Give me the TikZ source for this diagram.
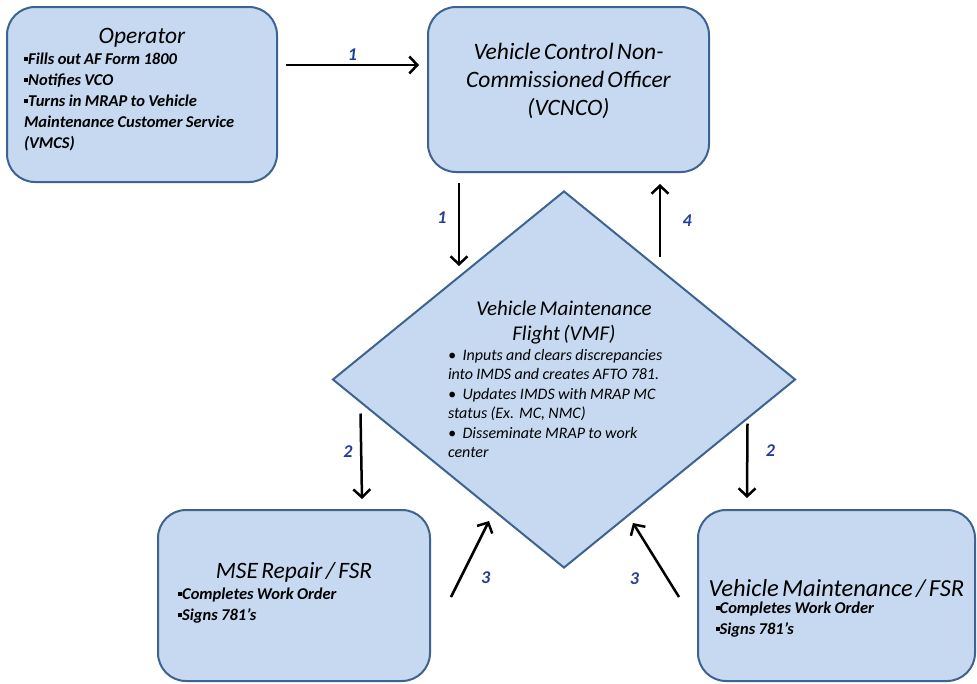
\documentclass[tikz,border=0pt]{standalone}
\usepackage{fontspec}
\setmainfont{Carlito}
\usepackage{xcolor}
\usetikzlibrary{positioning,shapes.geometric,arrows.meta}

\definecolor{boxfill}{HTML}{C6D9F0}
\definecolor{boxline}{HTML}{3E6391}
\definecolor{lblblue}{HTML}{233E99}

\newcommand{\sqbul}{\rule[0.2em]{4.2pt}{4.2pt}}
\newcommand{\ttlfont}{\fontsize{23.5}{28}\selectfont}
\newcommand{\bltfont}{\fontsize{16.5}{21}\selectfont\bfseries}

\begin{document}
\begin{tikzpicture}[x=1pt, y=-1pt,
    box/.style={draw=boxline, fill=boxfill, line width=2pt, rounded corners=28pt, align=left, font=\itshape, inner sep=0pt},
    flow/.style={-{Straight Barb[length=8pt,width=17pt]}, line width=2.5pt},
    lbl/.style={text=lblblue, font=\fontsize{18}{20}\selectfont\bfseries\itshape}]
    \useasboundingbox (0,0) rectangle (977,683);

    \node [box, minimum width=270pt, minimum height=175pt, text width=236pt] (op) at (142,94.5)
        {{\centering\ttlfont Operator\par}
         \bltfont\sqbul Fills out AF Form 1800\\
         \sqbul Notifies VCO\\
         \sqbul Turns in MRAP to Vehicle\\
         Maintenance Customer Service\\
         (VMCS)\rule[-13pt]{0pt}{0pt}\par};
    \node [box, minimum width=281pt, minimum height=165pt, text width=260pt, align=center] (vcnco) at (568.5,89.5)
        {\ttlfont Vehicle Control Non-\\Commissioned Officer\\(VCNCO)\rule[-20pt]{0pt}{0pt}\par};
    \node [diamond, draw=boxline, fill=boxfill, line width=2pt, minimum width=463pt, minimum height=377pt,
           aspect=1.23, inner sep=0pt, text width=232pt, align=left, font=\itshape] (vmf) at (564,379.5)
        {{\centering\fontsize{21}{25}\selectfont Vehicle Maintenance\\Flight (VMF)\par}
         \fontsize{16}{19.5}\selectfont
         \textbullet\ \ Inputs and clears discrepancies\\
         into IMDS and creates AFTO 781.\\
         \textbullet\ \ Updates IMDS with MRAP MC\\
         status (Ex. MC, NMC)\\
         \textbullet\ \ Disseminate MRAP to work\\
         center\par};
    \node [box, minimum width=272pt, minimum height=171pt, text width=232pt] (mse) at (294,595.5)
        {{\centering\ttlfont MSE Repair / FSR\par}
         \bltfont\sqbul Completes Work Order\\
         \sqbul Signs 781's\rule[-8pt]{0pt}{0pt}\par};
    \node [box, minimum width=277pt, minimum height=171pt, text width=242pt] (vm) at (836.5,595.5)
        {\rule{0pt}{43pt}\makebox[\linewidth][c]{\fontsize{24.5}{28}\selectfont Vehicle Maintenance / FSR}\\[-4pt]
         \bltfont\sqbul Completes Work Order\\
         \sqbul Signs 781's\par};

    % numbered steps
    \draw [flow] ([shift={(8,-29.5)}]op.east) -- ([shift={(-8,-24.5)}]vcnco.west) node [lbl, midway, above] {1};
    \draw [flow] ([shift={(-109.5,10)}]vcnco.south) -- ([shift={(-105,76)}]vmf.north) node [lbl, pos=0.42, left=8pt] {1};
    \draw [flow] ([shift={(29,34)}]vmf.west) -- ([shift={(68,-10)}]mse.north) node [lbl, pos=0.45, left=4pt] {2};
    \draw [flow] ([shift={(-49,44)}]vmf.east) -- ([shift={(-89.5,-11)}]vm.north) node [lbl, pos=0.36, right=14pt] {2};
    \draw [flow] ([shift={(20,1.5)}]mse.east) -- ([shift={(-75,-48)}]vmf.south) node [lbl, pos=0.25, right=16pt] {3};
    \draw [flow] ([shift={(-18,1.5)}]vm.west) -- ([shift={(69,-46)}]vmf.south) node [lbl, pos=0.25, left=24pt] {3};
    \draw [flow] ([shift={(96,67)}]vmf.north) -- ([shift={(91.5,11)}]vcnco.south) node [lbl, midway, right=18pt] {4};
\end{tikzpicture}
\end{document}
